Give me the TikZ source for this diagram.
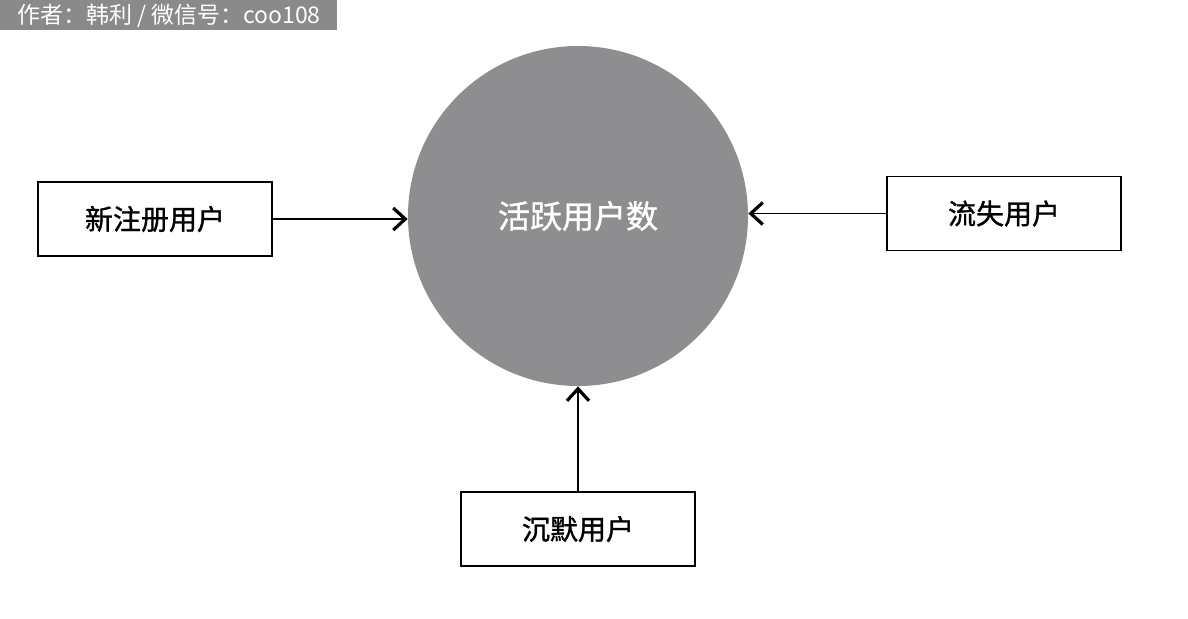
\documentclass[tikz,border=0pt]{standalone}
\usepackage{fontspec}
\newfontfamily\cjk{Noto Sans CJK SC}
\newfontfamily\cjkb[FakeBold=1.2]{Noto Sans CJK SC}
\usetikzlibrary{arrows.meta}
\definecolor{circ}{HTML}{8E8D8F}
\definecolor{lab}{HTML}{8A8A8A}
\begin{document}
\begin{tikzpicture}[x=0.5pt,y=-0.5pt,
  box/.style={draw=black,line width=0.7pt,minimum width=117pt,minimum height=37pt,inner sep=0pt,font=\cjkb\fontsize{14}{16}\selectfont},
  arr/.style={line width=0.8pt,-{Straight Barb[length=6pt,width=11pt,line width=1.6pt]}}]
\useasboundingbox (0,0) rectangle (1188,618);
\fill[white] (0,0) rectangle (1188,618);
\node[fill=lab,text=white,anchor=north west,minimum width=168.5pt,minimum height=15pt,inner sep=0pt,font=\cjk\fontsize{11.5}{12}\selectfont] (lab) at (0,0) {作者：韩利 / 微信号：coo108};
\node[circle,fill=circ,minimum size=170pt,inner sep=0pt,text=white,font=\cjkb\fontsize{16}{18}\selectfont] (c) at (578,216) {活跃用户数};
\node[box] (a) at (155,219) {新注册用户};
\node[box] (b) at (1004,213.5) {流失用户};
\node[box] (d) at (578,529) {沉默用户};
\draw[arr] (a.east) -- (c.west |- a.east);
\draw[arr] (b.west) -- (c.east |- b.west);
\draw[arr] (d.north) -- (c.south);
\end{tikzpicture}
\end{document}
